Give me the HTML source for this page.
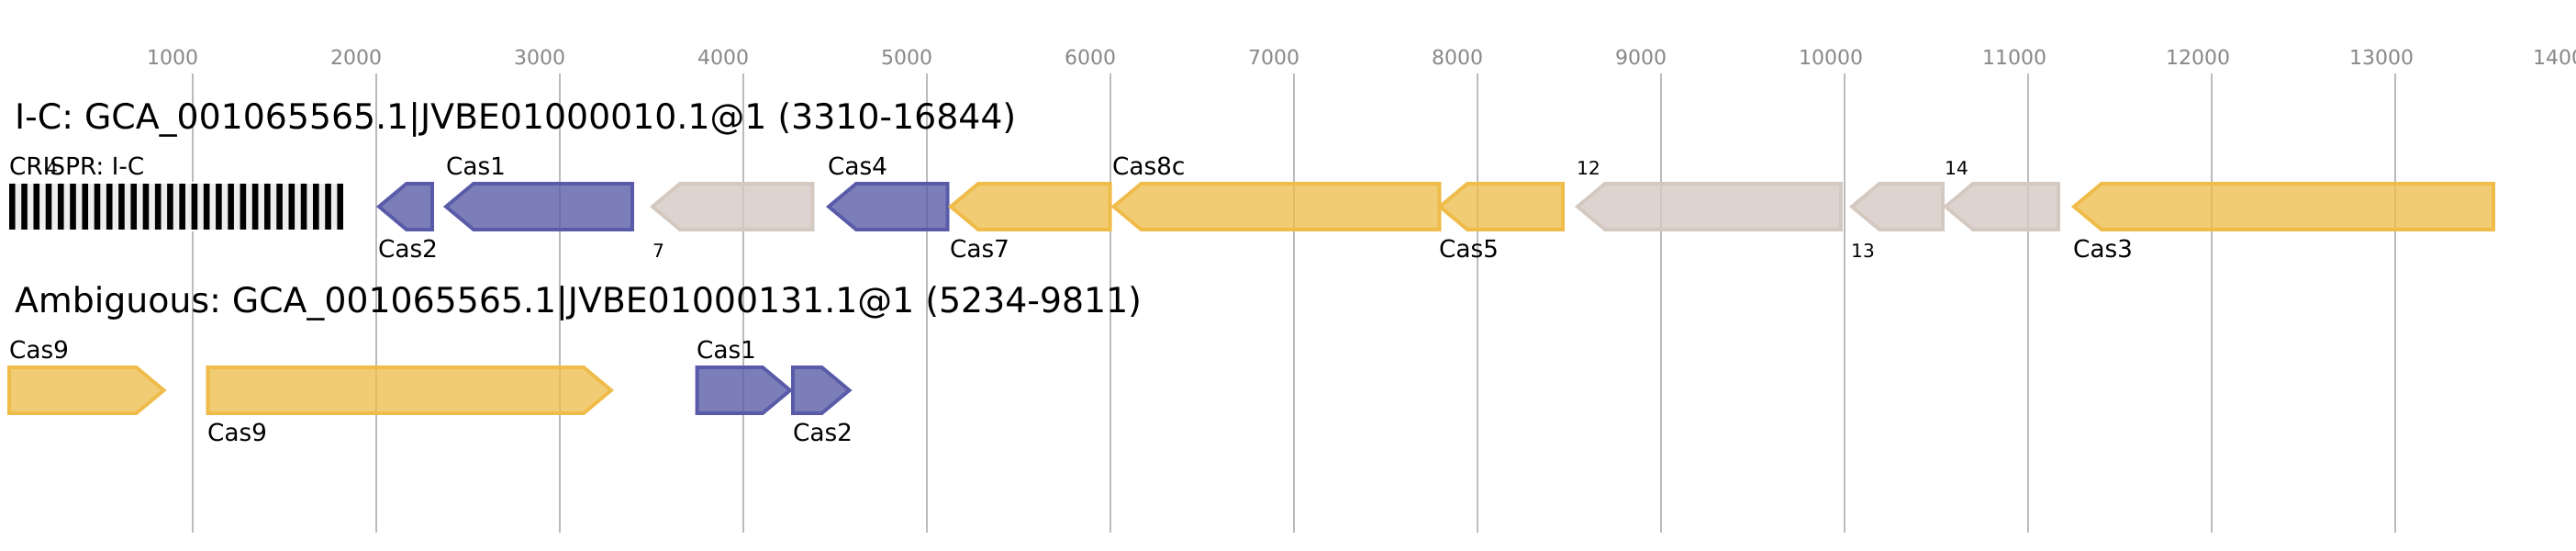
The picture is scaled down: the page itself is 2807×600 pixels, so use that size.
<!DOCTYPE html>
<html>
<head>
<meta charset="utf-8">
<title>CRISPR-Cas diagram</title>
<style>
html,body{margin:0;padding:0;background:#fff;width:2807px;height:600px;overflow:hidden}
svg{display:block}
text{font-family:"DejaVu Sans",sans-serif;fill:#000;text-rendering:geometricPrecision}
.t{font-size:22px;fill:#888}
.h{font-size:37.85px}
.l{font-size:26.3px}
.n{font-size:20.3px}
.o polygon{fill:#edbd4a;fill-opacity:.77;stroke:#efbb49;stroke-width:4}
.p polygon{fill:#595ba8;fill-opacity:.79;stroke:#595ba8;stroke-width:4}
.g polygon{fill:#d4c9c3;fill-opacity:.8;stroke:#d4c9c1;stroke-width:4}
</style>
</head>
<body>
<svg width="2807" height="600" viewBox="0 0 2807 600" xmlns="http://www.w3.org/2000/svg">
<rect width="2807" height="600" fill="#fff"/>
<g stroke="#bbb" stroke-width="2">
<line x1="210" y1="80" x2="210" y2="580"/><line x1="410" y1="80" x2="410" y2="580"/><line x1="610" y1="80" x2="610" y2="580"/><line x1="810" y1="80" x2="810" y2="580"/><line x1="1010" y1="80" x2="1010" y2="580"/><line x1="1210" y1="80" x2="1210" y2="580"/><line x1="1410" y1="80" x2="1410" y2="580"/><line x1="1610" y1="80" x2="1610" y2="580"/><line x1="1810" y1="80" x2="1810" y2="580"/><line x1="2010" y1="80" x2="2010" y2="580"/><line x1="2210" y1="80" x2="2210" y2="580"/><line x1="2410" y1="80" x2="2410" y2="580"/><line x1="2610" y1="80" x2="2610" y2="580"/>
</g>
<g class="t">
<text class="t" x="160" y="70">1000</text><text class="t" x="360" y="70">2000</text><text class="t" x="560" y="70">3000</text><text class="t" x="760" y="70">4000</text><text class="t" x="960" y="70">5000</text><text class="t" x="1160" y="70">6000</text><text class="t" x="1360" y="70">7000</text><text class="t" x="1560" y="70">8000</text><text class="t" x="1760" y="70">9000</text><text class="t" x="1960" y="70">10000</text><text class="t" x="2160" y="70">11000</text><text class="t" x="2360" y="70">12000</text><text class="t" x="2560" y="70">13000</text><text class="t" x="2760" y="70">14000</text>
</g>
<text class="h" x="16" y="140">I-C: GCA_001065565.1|JVBE01000010.1@1 (3310-16844)</text>
<text class="h" x="16" y="340">Ambiguous: GCA_001065565.1|JVBE01000131.1@1 (5234-9811)</text>

<rect x="10" y="198" width="364" height="54" fill="#fff"/>
<rect x="10" y="200" width="364" height="50" fill="#eee"/>
<g fill="#000">
<rect x="10" y="200" width="6.6" height="50"/><rect x="23.24" y="200" width="6.6" height="50"/><rect x="36.48" y="200" width="6.6" height="50"/><rect x="49.72" y="200" width="6.6" height="50"/><rect x="62.96" y="200" width="6.6" height="50"/><rect x="76.2" y="200" width="6.6" height="50"/><rect x="89.44" y="200" width="6.6" height="50"/><rect x="102.68" y="200" width="6.6" height="50"/><rect x="115.92" y="200" width="6.6" height="50"/><rect x="129.16" y="200" width="6.6" height="50"/><rect x="142.4" y="200" width="6.6" height="50"/><rect x="155.64" y="200" width="6.6" height="50"/><rect x="168.88" y="200" width="6.6" height="50"/><rect x="182.12" y="200" width="6.6" height="50"/><rect x="195.36" y="200" width="6.6" height="50"/><rect x="208.6" y="200" width="6.6" height="50"/><rect x="221.84" y="200" width="6.6" height="50"/><rect x="235.08" y="200" width="6.6" height="50"/><rect x="248.32" y="200" width="6.6" height="50"/><rect x="261.56" y="200" width="6.6" height="50"/><rect x="274.8" y="200" width="6.6" height="50"/><rect x="288.04" y="200" width="6.6" height="50"/><rect x="301.28" y="200" width="6.6" height="50"/><rect x="314.52" y="200" width="6.6" height="50"/><rect x="327.76" y="200" width="6.6" height="50"/><rect x="341" y="200" width="6.6" height="50"/><rect x="354.24" y="200" width="6.6" height="50"/><rect x="367.4" y="200" width="6.6" height="50"/>
</g>

<g class="p">
<polygon points="471,200 443,200 413,225 443,250 471,250"/>
<polygon points="689,200 516,200 486,225 516,250 689,250"/>
<polygon points="1032.5,200 933,200 903,225 933,250 1032.5,250"/>
<polygon points="759.6,400 831,400 861,425 831,450 759.6,450"/>
<polygon points="864,400 895.5,400 925.5,425 895.5,450 864,450"/>
</g>
<g class="g">
<polygon points="885.5,200 741,200 711,225 741,250 885.5,250"/>
<polygon points="2006,200 1749,200 1719,225 1749,250 2006,250"/>
<polygon points="2117,200 2048,200 2018,225 2048,250 2117,250"/>
<polygon points="2243,200 2150,200 2120,225 2150,250 2243,250"/>
</g>
<g class="o">
<polygon points="1209.6,200 1066,200 1036,225 1066,250 1209.6,250"/>
<polygon points="1568.5,200 1243.5,200 1213.5,225 1243.5,250 1568.5,250"/>
<polygon points="1703,200 1599,200 1569,225 1599,250 1703,250"/>
<polygon points="2717,200 2290,200 2260,225 2290,250 2717,250"/>
<polygon points="10,400 148.5,400 178.5,425 148.5,450 10,450"/>
<polygon points="226.5,400 636,400 666,425 636,450 226.5,450"/>
</g>

<text class="l" x="10" y="190">CRISPR: I-C</text>
<text class="n" x="50" y="190">4</text>
<text class="l" x="486" y="190">Cas1</text>
<text class="l" x="412" y="280">Cas2</text>
<text class="n" x="711" y="280">7</text>
<text class="l" x="902" y="190">Cas4</text>
<text class="l" x="1035" y="280">Cas7</text>
<text class="l" x="1212" y="190">Cas8c</text>
<text class="l" x="1568" y="280">Cas5</text>
<text class="n" x="1718" y="190">12</text>
<text class="n" x="2017" y="280">13</text>
<text class="n" x="2119" y="190">14</text>
<text class="l" x="2259" y="280">Cas3</text>
<text class="l" x="10" y="390">Cas9</text>
<text class="l" x="226" y="480">Cas9</text>
<text class="l" x="759" y="390">Cas1</text>
<text class="l" x="864" y="480">Cas2</text>
</svg>
</body>
</html>
